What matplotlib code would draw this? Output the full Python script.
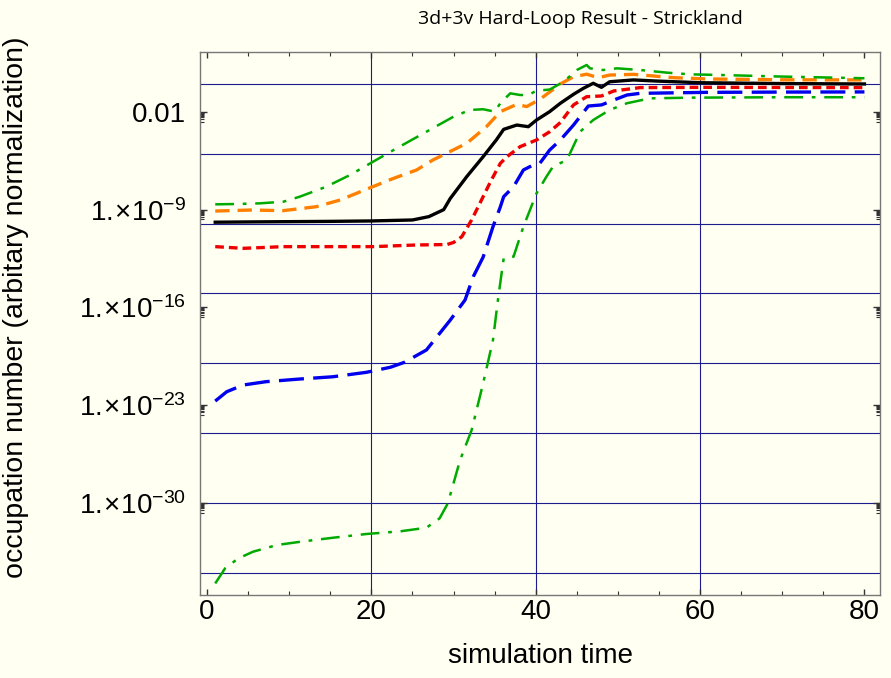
import numpy as np
import matplotlib
matplotlib.use("Agg")
import matplotlib.pyplot as plt
from matplotlib.ticker import FixedLocator, NullFormatter

plt.rcParams['font.family'] = ['Liberation Sans', 'DejaVu Sans']
plt.rcParams['mathtext.fontset'] = 'custom'
plt.rcParams['mathtext.rm'] = 'Liberation Sans'
plt.rcParams['mathtext.it'] = 'Liberation Sans'

# curves: time, log10(occupation number)
black_t = [1, 5, 10, 15, 20, 25, 27, 28.8, 29.6, 31.6, 33.6, 35.2, 36.1, 37.7, 39.1, 40.1,
           41.7, 43.0, 44.6, 45.8, 47.0, 48.0, 49.0, 51.9, 54.7, 60, 70, 80]
black_lg = [-9.9, -9.88, -9.86, -9.84, -9.81, -9.74, -9.5, -9.0, -8.2, -6.64, -5.21, -4.01, -3.25,
            -2.94, -3.06, -2.58, -1.98, -1.38, -0.74, -0.31, 0.05, -0.24, 0.16, 0.29, 0.21, 0.09,
            0.03, 0.0]

orange_t = [1, 5.2, 9.3, 13.3, 16.2, 19.4, 22.7, 25.5, 27.5, 31.6, 34.0, 35.7, 37.7, 38.9, 40.5,
            43.0, 44.6, 46.2, 47.6, 49.0, 51.9, 56.8, 60.8, 70, 80]
orange_lg = [-9.1, -9.03, -9.07, -8.79, -8.31, -7.54, -6.76, -6.16, -5.44, -4.25, -3.06, -1.98,
             -1.46, -1.62, -1.1, 0.0, 0.52, 0.7, 0.45, 0.64, 0.69, 0.45, 0.36, 0.3, 0.29]

red_t = [1, 4.4, 9.3, 15.3, 20.2, 25.5, 29.2, 30.0, 31.0, 32.2, 33.4, 34.6, 35.7, 36.5, 38.1,
         40.1, 41.7, 43.0, 44.6, 46.2, 48.0, 49.5, 52.7, 60.8, 70, 80]
red_lg = [-11.65, -11.77, -11.65, -11.65, -11.65, -11.53, -11.5, -11.35, -10.94, -9.74, -8.31,
          -6.88, -5.68, -5.21, -4.49, -4.01, -3.42, -2.76, -1.5, -0.91, -0.86, -0.5, -0.26,
          -0.24, -0.25, -0.26]

blue_t = [1, 2.4, 4.4, 7.2, 11.3, 15.3, 19.4, 22.3, 24.0, 26.7, 29.6, 31.4, 32.4, 33.6, 34.8,
          35.7, 36.1, 37.3, 38.5, 39.7, 40.5, 41.7, 43.0, 44.6, 46.4, 48.0, 49.5, 51.1, 52.7,
          60.8, 70, 80]
blue_lg = [-22.71, -22.04, -21.56, -21.32, -21.13, -20.97, -20.65, -20.29, -19.94, -19.05,
           -16.91, -15.47, -13.8, -12.4, -10.22, -8.79, -8.07, -7.36, -6.16, -5.8, -5.68, -4.73,
           -4.01, -2.94, -1.58, -1.5, -1.15, -0.79, -0.67, -0.6, -0.58, -0.57]

green_hi_t = [1, 3.2, 6.4, 9.3, 11.3, 14.5, 17.4, 20.2, 22.7, 26.7, 30.0, 32.0, 33.6, 35.0, 35.7,
              36.9, 38.1, 39.1, 40.1, 41.7, 43.4, 45.0, 46.2, 46.6, 48.2, 49.9, 52.7, 56.0,
              58.8, 62, 70, 80]
green_hi_lg = [-8.62, -8.6, -8.55, -8.43, -8.07, -7.36, -6.52, -5.57, -4.73, -3.42, -2.34, -1.86,
               -1.81, -1.98, -1.38, -0.67, -0.79, -0.79, -0.48, -0.4, 0.16, 1.0, 1.36, 1.12, 1.0,
               1.12, 1.0, 0.81, 0.69, 0.65, 0.53, 0.41]

green_lo_t = [1, 2.2, 3.8, 5.6, 8.5, 11.3, 15.3, 19.4, 23.5, 26.7, 28.3, 29.3, 30.8, 32.2, 33.6,
              34.8, 35.4, 36.1, 37.3, 38.5, 40.1, 41.3, 42.1, 43.8, 45.4, 47.0, 49.0, 51.1,
              53.9, 58.8, 70, 80]
green_lo_lg = [-35.77, -34.69, -33.98, -33.5, -33.02, -32.79, -32.5, -32.23, -32.04, -31.78,
               -31.11, -30.04, -26.93, -24.79, -21.44, -18.34, -15.47, -12.49, -12.37, -10.22,
               -7.83, -6.64, -5.92, -5.44, -3.42, -2.58, -1.86, -1.38, -1.03, -0.98, -0.95, -0.95]

x_ticks = [0, 20, 40, 60, 80]
x_grid = [20, 40, 60]
y_tick_exp = [-2, -9, -16, -23, -30]
y_tick_labels = ['0.01', r'$1.\!\!\times\!10^{-9}$', r'$1.\!\!\times\!10^{-16}$',
                 r'$1.\!\!\times\!10^{-23}$', r'$1.\!\!\times\!10^{-30}$']
y_grid_exp = [0, -5, -10, -15, -20, -25, -30, -35]

bg = '#FFFFF2'
fig = plt.figure(figsize=(8.91, 6.78), dpi=100, facecolor=bg)
ax = fig.add_axes([0.2245, 0.1224, 0.7632, 0.8009], facecolor=bg)

for xv in x_grid:
    ax.axvline(xv, color='#1c1c8f', lw=0.8, zorder=1)
for e in y_grid_exp:
    ax.axhline(10.0 ** e, color='#1c1c8f', lw=0.8, zorder=1)

series = [
    (green_lo_t, green_lo_lg, '#00aa00', 1.8, (7.5, 3.5, 1.5, 3.5)),
    (blue_t, blue_lg, '#0000ee', 2.4, (7.5, 2.8)),
    (red_t, red_lg, '#ee0000', 2.4, (2.6, 1.5)),
    (black_t, black_lg, 'black', 2.4, None),
    (orange_t, orange_lg, '#ff8000', 2.4, (4.3, 2.4)),
    (green_hi_t, green_hi_lg, '#00aa00', 1.8, (7.5, 3.5, 1.5, 3.5)),
]
for t, lg, c, lw, dash in series:
    line, = ax.plot(t, 10.0 ** np.array(lg), color=c, lw=lw, zorder=3)
    if dash is not None:
        line.set_dashes(dash)

ax.set_yscale('log')
ax.set_xlim(-0.85, 81.9)
ax.set_ylim(10 ** -36.6, 10 ** 2.29)

ax.xaxis.set_major_locator(FixedLocator(x_ticks))
ax.xaxis.set_minor_locator(FixedLocator(np.arange(0, 81, 5)))
ax.yaxis.set_major_locator(FixedLocator([10.0 ** e for e in y_tick_exp]))
ax.set_yticklabels(y_tick_labels)
minor_y = [k * 10.0 ** (e - 1) for e in y_tick_exp for k in range(2, 10)]
ax.yaxis.set_minor_locator(FixedLocator(minor_y))
ax.yaxis.set_minor_formatter(NullFormatter())

ax.tick_params(which='both', direction='in', top=True, right=True, color='#333333')
ax.tick_params(which='major', length=5, width=1, labelsize=20, pad=10)
ax.tick_params(axis='x', which='major', length=4, pad=3)
ax.tick_params(which='minor', length=3, width=0.8)
for s in ax.spines.values():
    s.set_color('#777777')
    s.set_linewidth(1.0)

ax.set_xlabel('simulation time', fontsize=20, labelpad=13)
ax.set_ylabel('occupation number (arbitary normalization)', fontsize=20.5)
ax.yaxis.set_label_coords(-0.252, 0.53)
fig.text(0.651, 0.972, '3d+3v Hard-Loop Result - Strickland', fontsize=14,
         family=['Open Sans', 'DejaVu Sans'], ha='center', va='center')

fig.savefig('out.png', dpi=100, facecolor=bg)
